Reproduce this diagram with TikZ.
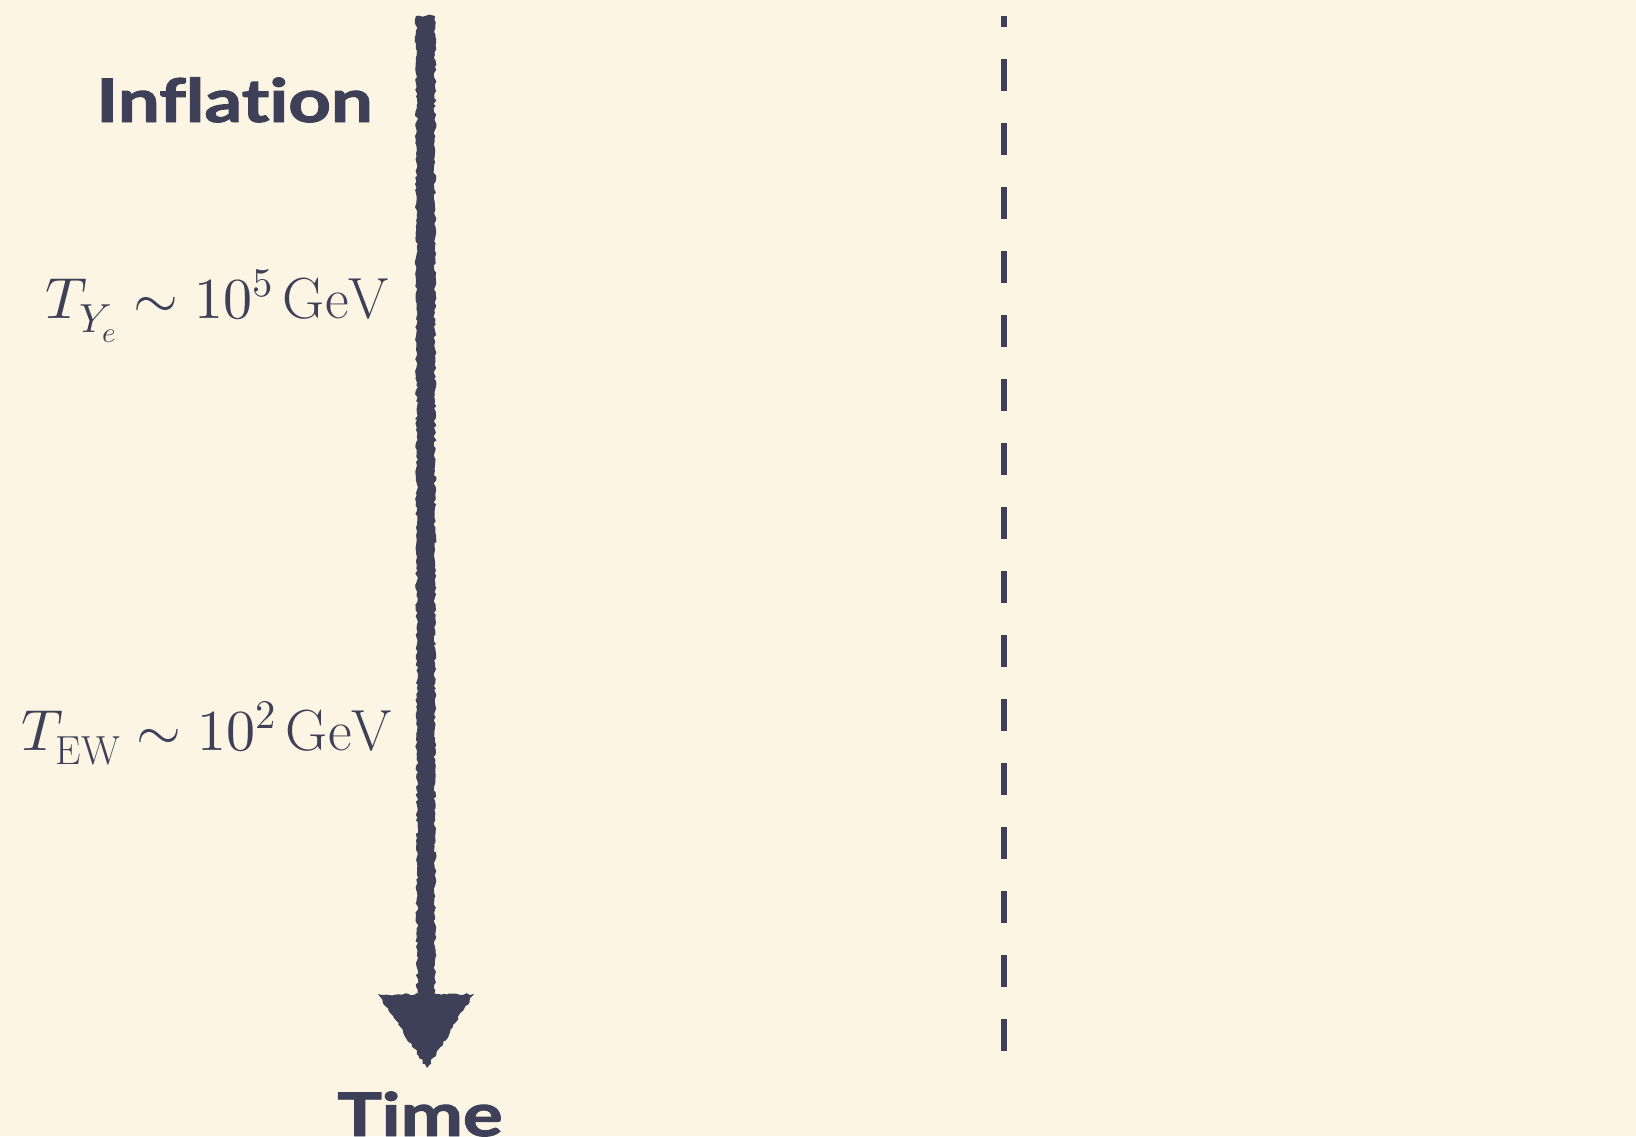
\documentclass[tikz,border=0pt]{standalone}
\usepackage{fontspec}
\usepackage{unicode-math}
\setmathfont{Latin Modern Math}
\usepackage{graphicx}
\newfontfamily\headfont{Lato}[Ligatures=NoCommon,FakeBold=1.6]
\usetikzlibrary{arrows.meta,decorations.pathmorphing}
\definecolor{bgcream}{RGB}{253,245,227}
\definecolor{ink}{RGB}{62,64,88}
\newcommand{\widehead}[1]{\scalebox{1.24}[1]{#1}}
\tikzset{
  headlabel/.style={font=\headfont\bfseries\fontsize{60}{60}\selectfont, text=ink, inner sep=0pt},
  templabel/.style={font=\fontsize{58}{58}\selectfont, text=ink, inner sep=0pt, anchor=base east},
  chalk/.style={fill=ink, decorate, decoration={random steps, segment length=3pt, amplitude=1.4pt}},
  divider/.style={draw=ink, line width=6pt, dash pattern=on 32pt off 32pt, dash phase=21pt}
}
\begin{document}
\begin{tikzpicture}[x=1pt,y=-1pt]
\pgfmathsetseed{7}
\fill[bgcream] (0,0) rectangle (1636,1136);
\useasboundingbox (0,0) rectangle (1636,1136);
\node[headlabel, anchor=base east] (inflation) at (373,122) {\widehead{Inflation}};
\node[templabel] (tye) at (389,318) {$T_{Y_e}\sim 10^5\,\mathrm{GeV}$};
\node[templabel] (tew) at (392,750) {$T_{\mathrm{EW}}\sim 10^2\,\mathrm{GeV}$};
\node[headlabel, anchor=base] (time) at (420,1136) {\widehead{Time}};
% chalk arrow
\coordinate (arrtop) at (425,16);
\coordinate (arrtip) at (427,1068);
\coordinate (headl) at (378,994);
\coordinate (headr) at (474,994);
\fill[chalk] (416,16) -- (435,16) -- (435,1000) -- (417,1000) -- cycle;
\fill[chalk] (headl) -- (headr) -- (arrtip) -- cycle;
\coordinate (dtop) at (1004,16);
\coordinate (dbot) at (1004,1052);
\draw[divider] (dtop) -- (dbot);
\end{tikzpicture}
\end{document}
